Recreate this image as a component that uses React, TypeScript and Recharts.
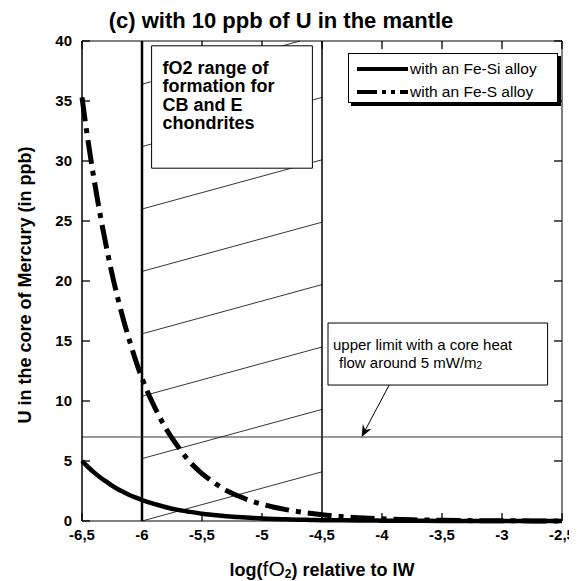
import { Label, Legend, Line, LineChart, ReferenceArea, ReferenceLine, XAxis, YAxis } from 'recharts';

// log(fO2) relative to IW
const logFO2 = [
  -6.5, -6.45, -6.4, -6.35, -6.3, -6.25, -6.2, -6.15, -6.1, -6.05, -6.0, -5.9, -5.8, -5.7, -5.6, -5.5,
  -5.4, -5.3, -5.2, -5.1, -5.0, -4.9, -4.8, -4.7, -4.6, -4.5, -4.4, -4.2, -4.0, -3.75, -3.5, -3.25,
  -3.0, -2.75, -2.5,
];
// U in the core (ppb), Fe-Si alloy
const uFeSi = [
  5.0, 4.5, 4.05, 3.65, 3.3, 2.95, 2.65, 2.4, 2.15, 1.95, 1.75, 1.42, 1.15, 0.93, 0.76, 0.61,
  0.5, 0.4, 0.33, 0.27, 0.21, 0.17, 0.14, 0.11, 0.09, 0.07, 0.06, 0.04, 0.03, 0.02, 0.01, 0.01,
  0, 0, 0,
];
// U in the core (ppb), Fe-S alloy
const uFeS = [
  35.3, 31.7, 28.5, 25.6, 23.0, 20.6, 18.5, 16.6, 14.9, 13.3, 11.9, 9.6, 7.7, 6.2, 4.9, 3.95,
  3.2, 2.55, 2.1, 1.7, 1.4, 1.15, 0.95, 0.78, 0.64, 0.52, 0.42, 0.28, 0.18, 0.1, 0.06, 0.03,
  0.02, 0.01, 0.01,
];

const xTicks = [-6.5, -6, -5.5, -5, -4.5, -4, -3.5, -3, -2.5];
const yTicks = [0, 5, 10, 15, 20, 25, 30, 35, 40];

const chondriteRange = [-6, -4.5];
const heatFlowLimit = 7;
// hatch lines inside the chondrite range: start value at x=-6, rise over the range
const hatchStarts = [0, 5.2, 10.4, 15.6, 20.8, 26, 31.2, 36.4];
const hatchRise = 4.1;

const FONT = '"Liberation Sans", Arial, sans-serif';
const TICK = 8;

const data = logFO2.map((x, i) => ({ x, fesi: uFeSi[i], fes: uFeS[i] }));

const fmt = (v: number) => String(v).replace('.', ',');

const BottomTick = ({ x, y, payload }: any) => (
  <g>
    <line x1={x} y1={y} x2={x} y2={y - TICK} stroke="#000" strokeWidth={1.3} />
    <text x={x} y={y + 19} textAnchor="middle" fontSize={15} fontWeight="bold" fontFamily={FONT} fill="#000">
      {fmt(payload.value)}
    </text>
  </g>
);

const LeftTick = ({ x, y, payload }: any) => (
  <g>
    <line x1={x} y1={y} x2={x + TICK} y2={y} stroke="#000" strokeWidth={1.3} />
    <text x={x - 10} y={y + 5} textAnchor="end" fontSize={15} fontWeight="bold" fontFamily={FONT} fill="#000">
      {fmt(payload.value)}
    </text>
  </g>
);

// mirrored inward ticks on the top and right frame edges
const TopTickShape = ({ x1, y1, y2 }: any) => {
  const top = Math.min(y1, y2);
  return <line x1={x1} y1={top} x2={x1} y2={top + TICK} stroke="#000" strokeWidth={1.3} />;
};
const RightTickShape = ({ x1, x2, y1 }: any) => {
  const right = Math.max(x1, x2);
  return <line x1={right} y1={y1} x2={right - TICK} y2={y1} stroke="#000" strokeWidth={1.3} />;
};

const XTitle = ({ viewBox }: any) => (
  <text x={viewBox.x + viewBox.width / 2} y={viewBox.y + 55} textAnchor="middle" fontSize={18} fontWeight="bold" fontFamily={FONT} fill="#000">
    log(<tspan fontSize={21} fontWeight="normal">fO</tspan>
    <tspan fontSize={12} dy={2}>2</tspan>
    <tspan dy={-2}>) relative to IW</tspan>
  </text>
);

// y-axis title plus the chart title above the plot
const YTitle = ({ viewBox }: any) => {
  const cx = 17;
  const cy = viewBox.y + 244;
  return (
    <g>
      <text x={cx} y={cy} transform={`rotate(-90 ${cx} ${cy})`} textAnchor="middle" dominantBaseline="central" fontSize={18} fontWeight="bold" fontFamily={FONT} fill="#000">
        U in the core of Mercury (in ppb)
      </text>
      <text x={273} y={viewBox.y - 13} textAnchor="middle" fontSize={22} fontWeight="bold" fontFamily={FONT} fill="#000">
        (c) with 10 ppb of U in the mantle
      </text>
    </g>
  );
};

const RangeText = ({ viewBox }: any) => {
  const lines = ['fO2 range of', 'formation for', 'CB and E', 'chondrites'];
  return (
    <text fontSize={18} fontWeight="bold" fontFamily={FONT} fill="#000">
      {lines.map((l, i) => (
        <tspan key={l} x={viewBox.x + 11} y={viewBox.y + 28 + i * 18.4}>
          {l}
        </tspan>
      ))}
    </text>
  );
};

const LimitText = ({ viewBox }: any) => (
  <text fontSize={15} fontFamily={FONT} fill="#000">
    <tspan x={viewBox.x + 5} y={viewBox.y + 27}>upper limit with a core heat</tspan>
    <tspan x={viewBox.x + 11} y={viewBox.y + 45}>flow around 5 mW/m</tspan>
    <tspan fontSize={10} dy={1}>2</tspan>
  </text>
);

const ArrowShape = ({ x1, y1, x2, y2 }: any) => {
  const a = Math.atan2(y2 - y1, x2 - x1);
  const c = Math.cos(a);
  const s = Math.sin(a);
  const len = 12;
  const w = 5;
  const bx = x2 - len * c;
  const by = y2 - len * s;
  const nx = x2 - len * 0.65 * c;
  const ny = y2 - len * 0.65 * s;
  const pts = `${x2},${y2} ${bx - w * s},${by + w * c} ${nx},${ny} ${bx + w * s},${by - w * c}`;
  return (
    <g>
      <line x1={x1} y1={y1} x2={nx} y2={ny} stroke="#000" strokeWidth={1} />
      <polygon points={pts} fill="#000" />
    </g>
  );
};

const LegendBox = () => (
  <div
    style={{
      width: 210,
      height: 50,
      border: '1px solid #000',
      boxShadow: '3px 3px 0 #000',
      background: '#fff',
      boxSizing: 'border-box',
    }}
  >
    <svg width={208} height={48} style={{ display: 'block' }}>
      <line x1={8} y1={15} x2={59} y2={15} stroke="#000" strokeWidth={4} />
      <text x={61} y={20} fontSize={15.5} fontFamily={FONT} fill="#000">with an Fe-Si alloy</text>
      <line x1={8} y1={38} x2={59} y2={38} stroke="#000" strokeWidth={4} strokeDasharray="20 5 4 5 4 5" />
      <text x={61} y={43} fontSize={15.5} fontFamily={FONT} fill="#000">with an Fe-S alloy</text>
    </svg>
  </div>
);

export default function App() {
  const [xa, xb] = chondriteRange;
  const span = xb - xa;
  return (
    <LineChart width={569} height={573} data={data} margin={{ top: 32, right: 14, bottom: 0, left: 0 }}>
      <XAxis
        dataKey="x"
        type="number"
        domain={[-6.5, -2.5]}
        ticks={xTicks}
        interval={0}
        height={60}
        tickSize={0}
        tickMargin={0}
        tickLine={false}
        axisLine={{ stroke: '#000' }}
        tick={<BottomTick />}
      >
        <Label content={XTitle} />
      </XAxis>
      <XAxis
        xAxisId="top"
        orientation="top"
        dataKey="x"
        type="number"
        domain={[-6.5, -2.5]}
        height={1}
        tickLine={false}
        tick={false}
        axisLine={{ stroke: '#000' }}
      />
      <YAxis
        type="number"
        domain={[0, 40]}
        ticks={yTicks}
        interval={0}
        width={74}
        tickSize={0}
        tickMargin={0}
        tickLine={false}
        axisLine={{ stroke: '#000', strokeWidth: 1.5 }}
        tick={<LeftTick />}
      >
        <Label content={YTitle} />
      </YAxis>
      <YAxis
        yAxisId="right"
        orientation="right"
        type="number"
        domain={[0, 40]}
        width={1}
        tickLine={false}
        tick={false}
        axisLine={{ stroke: '#000' }}
      />

      {xTicks.map((t) => (
        <ReferenceLine key={`tx${t}`} x={t} shape={TopTickShape} zIndex={320} />
      ))}
      {yTicks.map((t) => (
        <ReferenceLine key={`ty${t}`} y={t} shape={RightTickShape} zIndex={320} />
      ))}

      {hatchStarts.map((y0) => {
        const over = y0 + hatchRise > 40;
        const end = over ? { x: xa + (span * (40 - y0)) / hatchRise, y: 40 } : { x: xb, y: y0 + hatchRise };
        return (
          <ReferenceLine
            key={y0}
            segment={[{ x: xa, y: y0 }, end]}
            stroke="#000"
            strokeWidth={0.8}
            ifOverflow="visible"
            zIndex={300}
          />
        );
      })}
      <ReferenceLine x={xa} stroke="#000" strokeWidth={2.5} zIndex={310} />
      <ReferenceLine x={xb} stroke="#000" strokeWidth={1.5} zIndex={310} />
      <ReferenceLine y={heatFlowLimit} stroke="#333" strokeWidth={1.2} zIndex={310} />

      <ReferenceArea
        x1={-5.92}
        x2={-4.58}
        y1={29.4}
        y2={39.6}
        fill="#fff"
        fillOpacity={1}
        stroke="#000"
        strokeWidth={1}
        ifOverflow="visible"
        zIndex={500}
        label={RangeText}
      />
      <ReferenceArea
        x1={-4.45}
        x2={-2.62}
        y1={11.33}
        y2={16.5}
        fill="#fff"
        fillOpacity={1}
        stroke="#000"
        strokeWidth={1}
        ifOverflow="visible"
        zIndex={500}
        label={LimitText}
      />
      <ReferenceLine
        segment={[
          { x: -3.94, y: 11.33 },
          { x: -4.17, y: heatFlowLimit },
        ]}
        ifOverflow="visible"
        shape={ArrowShape}
        zIndex={510}
      />

      <Line
        dataKey="fesi"
        type="monotone"
        stroke="#000"
        strokeWidth={4.5}
        dot={false}
        isAnimationActive={false}
      />
      <Line
        dataKey="fes"
        type="monotone"
        stroke="#000"
        strokeWidth={5}
        strokeDasharray="24 7 5 7"
        dot={false}
        isAnimationActive={false}
      />

      <Legend
        layout="vertical"
        align="center"
        verticalAlign="middle"
        content={LegendBox}
        wrapperStyle={{ position: 'absolute', left: 340, top: 45, width: 214, height: 54 }}
      />
    </LineChart>
  );
}
